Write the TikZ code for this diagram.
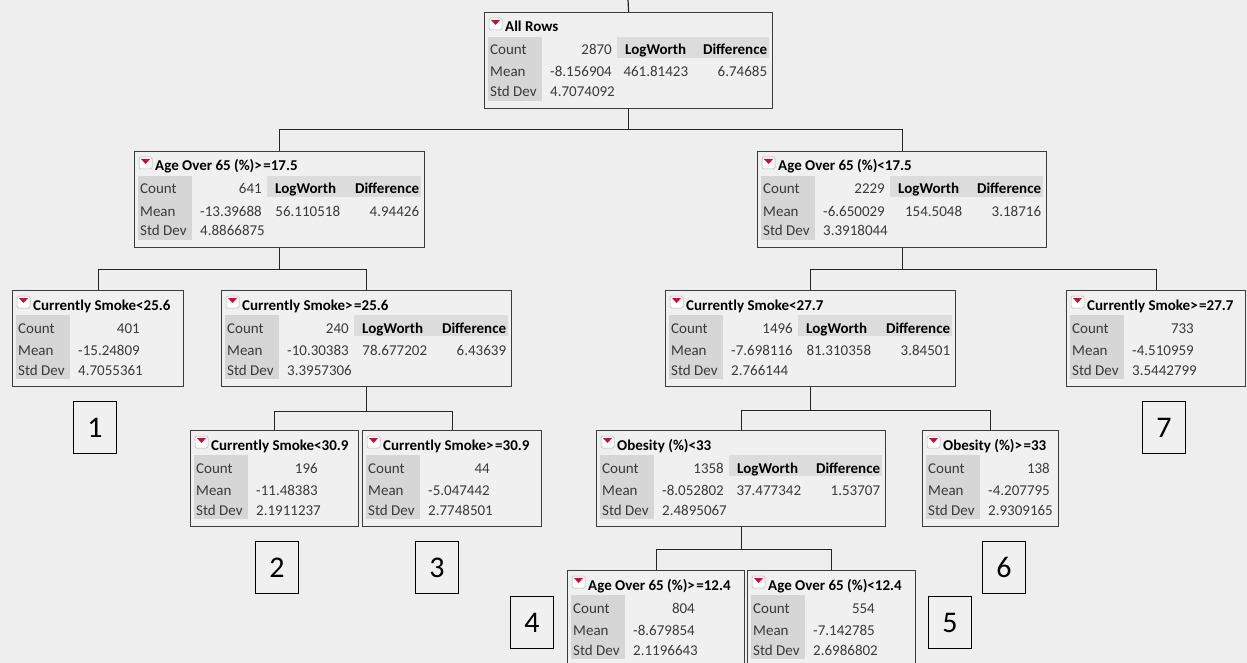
\documentclass[tikz,border=0pt]{standalone}
\usepackage{fontspec}
\setmainfont{Carlito}
\usetikzlibrary{calc}
\definecolor{bg}{HTML}{EEEEEE}
\definecolor{boxfill}{HTML}{F0F0F0}
\definecolor{lblgray}{HTML}{D6D6D6}
\definecolor{hdrgray}{HTML}{DCDCDC}
\definecolor{bordr}{HTML}{3C3C3C}
\definecolor{txt}{HTML}{3A3A3A}
\definecolor{tri}{HTML}{C8102E}
\tikzset{
 jbox/.style={draw=bordr, line width=1.3pt, fill=boxfill, minimum height=96pt, inner sep=0pt, anchor=north west},
 numbox/.style={draw=black, line width=1.1pt, fill=boxfill, minimum width=43pt, minimum height=52pt, inner sep=0pt, anchor=north west, font=\fontsize{30}{30}\selectfont},
 lbl/.style={inner sep=0pt, anchor=base west, text=txt, font=\fontsize{15}{15}\selectfont},
 valr/.style={inner sep=0pt, anchor=base east, text=txt, font=\fontsize{15}{15}\selectfont},
 hdr/.style={inner sep=0pt, font=\fontsize{15}{15}\selectfont\bfseries, text=black},
 ttl/.style={inner sep=0pt, anchor=base west, font=\fontsize{15}{15}\selectfont\bfseries, text=black},
 conn/.style={draw=black!85, line width=1.2pt},
}
\newcommand\jge{>\kern1.5pt=}
\newcommand\jnode[5]{%
  \node[jbox, minimum width=#4pt] (#1) at (#2,#3) {};
  \fill[lblgray] ($(#1.north west)+(4,25)$) rectangle ($(#1.north west)+(58,89)$);
  \draw[fill=white, draw=gray!60, rounded corners=1.5pt, line width=0.5pt] ($(#1.north west)+(5,6)$) rectangle ($(#1.north west)+(18,18)$);
  \fill[tri] ($(#1.north west)+(7,8)$) -- ($(#1.north west)+(16,8)$) -- ($(#1.north west)+(11.5,13)$) -- cycle;
  \node[ttl] (#1-t) at ($(#1.north west)+(21,20)$) {#5};
}
\newcommand\jrows[4]{%
  \node[lbl] (#1-lc) at ($(#1.north west)+(6,43)$) {Count};
  \node[valr] (#1-vc) at ($(#1.north west)+(128,43)$) {#2};
  \node[lbl] (#1-lm) at ($(#1.north west)+(6,65)$) {Mean};
  \node[valr] (#1-vm) at ($(#1.north west)+(128,65)$) {#3};
  \node[lbl] (#1-ls) at ($(#1.north west)+(6,85)$) {Std Dev};
  \node[lbl] (#1-vs) at ($(#1.north west)+(66,85)$) {#4};
}
\newcommand\jsplit[3]{%
  \fill[hdrgray] ($(#1.north west)+(133,25)$) rectangle ($(#1.north east)+(-4,46)$);
  \node[hdr, anchor=base west] (#1-hl) at ($(#1.north west)+(141,43)$) {LogWorth};
  \node[hdr, anchor=base east] (#1-hd) at ($(#1.north east)+(-6,43)$) {Difference};
  \node[valr] (#1-vl) at ($(#1.north east)+(-85,65)$) {#2};
  \node[valr] (#1-vd) at ($(#1.north east)+(-6,65)$) {#3};
}
\newcommand\tconn[3]{\draw[conn] (#1.south) -- ($(#1.south)+(0,#3)$) -| (#2.north);}
\begin{document}
\begin{tikzpicture}[x=1pt,y=-1pt]
\useasboundingbox (0,0) rectangle (1247,663);
\clip (0,0) rectangle (1247,663);
\fill[bg] (0,0) rectangle (1247,663);

% boxes
\jnode{root}{484}{12}{288}{All Rows}
\jrows{root}{2870}{-8.156904}{4.7074092}
\jsplit{root}{461.81423}{6.74685}

\jnode{ageA}{134}{151}{290}{Age Over 65 (\%)\jge17.5}
\jrows{ageA}{641}{-13.39688}{4.8866875}
\jsplit{ageA}{56.110518}{4.94426}

\jnode{ageB}{757}{151}{289}{Age Over 65 (\%)<17.5}
\jrows{ageB}{2229}{-6.650029}{3.3918044}
\jsplit{ageB}{154.5048}{3.18716}

\jnode{csA}{12}{290}{171}{Currently Smoke<25.6}
\jrows{csA}{401}{-15.24809}{4.7055361}

\jnode{csB}{221}{290}{290}{Currently Smoke\jge25.6}
\jrows{csB}{240}{-10.30383}{3.3957306}
\jsplit{csB}{78.677202}{6.43639}

\jnode{csC}{665}{290}{290}{Currently Smoke<27.7}
\jrows{csC}{1496}{-7.698116}{2.766144}
\jsplit{csC}{81.310358}{3.84501}

\jnode{csD}{1066}{290}{179}{Currently Smoke\jge27.7}
\jrows{csD}{733}{-4.510959}{3.5442799}

\jnode{csE}{190}{430}{168}{Currently Smoke<30.9}
\jrows{csE}{196}{-11.48383}{2.1911237}

\jnode{csF}{362}{430}{179}{Currently Smoke\jge30.9}
\jrows{csF}{44}{-5.047442}{2.7748501}

\jnode{obA}{596}{430}{289}{Obesity (\%)<33}
\jrows{obA}{1358}{-8.052802}{2.4895067}
\jsplit{obA}{37.477342}{1.53707}

\jnode{obB}{922}{430}{136}{Obesity (\%)\jge33}
\jrows{obB}{138}{-4.207795}{2.9309165}

\jnode{agC}{567}{570}{177}{Age Over 65 (\%)\jge12.4}
\jrows{agC}{804}{-8.679854}{2.1196643}

\jnode{agD}{747}{570}{168}{Age Over 65 (\%)<12.4}
\jrows{agD}{554}{-7.142785}{2.6986802}

% connectors
\coordinate (topend) at (628,0);
\draw[conn] (root.north) -- (topend);
\tconn{root}{ageA}{20}
\tconn{root}{ageB}{20}
\tconn{ageA}{csA}{21}
\tconn{ageA}{csB}{21}
\tconn{ageB}{csC}{21}
\tconn{ageB}{csD}{21}
\tconn{csB}{csE}{24}
\tconn{csB}{csF}{24}
\tconn{csC}{obA}{23}
\tconn{csC}{obB}{23}
\tconn{obA}{agC}{22}
\tconn{obA}{agD}{22}

% leaf numbers
\node[numbox] (n1) at (73,401) {1};
\node[numbox] (n2) at (255,541) {2};
\node[numbox] (n3) at (415,541) {3};
\node[numbox] (n4) at (510,596) {4};
\node[numbox] (n5) at (928,596) {5};
\node[numbox] (n6) at (982,541) {6};
\node[numbox] (n7) at (1142,401) {7};
\end{tikzpicture}
\end{document}
